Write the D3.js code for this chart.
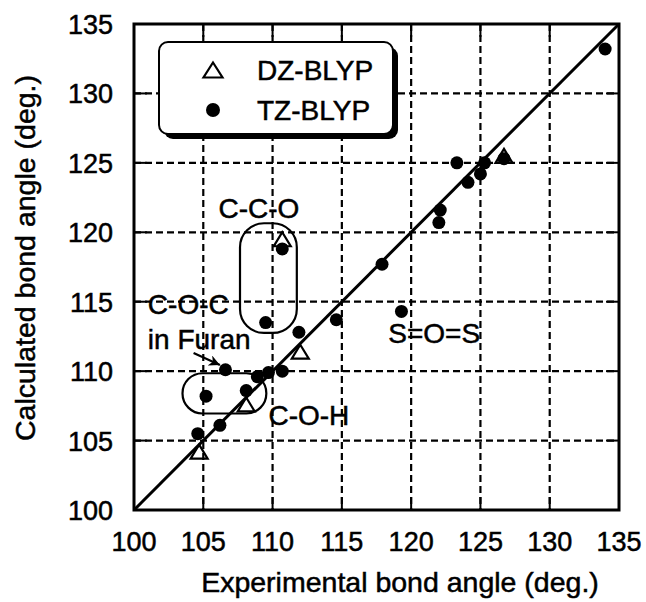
<!DOCTYPE html>
<html lang="en">
<head>
<meta charset="UTF-8" />
<title>Calculated vs experimental bond angle</title>
<script src="https://d3js.org/d3.v7.min.js"></script>
<style>
  body { margin: 0; background: #fff; }
  svg { font-family: "Liberation Sans", Arial, sans-serif; }
  svg text { stroke: #000; stroke-width: 0.5px; }
</style>
</head>
<body>
<svg width="646" height="602"></svg>
<script>
  // axis ticks (both axes share the same range)
  const tickValues = [100, 105, 110, 115, 120, 125, 130, 135];

  // DZ-BLYP (open triangles)
  const dzExp  = [110.7, 112.0, 108.1, 104.7, 126.7];
  const dzCalc = [119.5, 111.4, 107.6, 104.2, 125.5];

  // TZ-BLYP (filled circles)
  const tzExp  = [110.7, 109.5, 111.9, 114.6, 106.6, 108.9, 109.7, 110.7, 105.2, 108.1, 106.2, 104.6,
                  134.0, 123.3, 125.3, 125.0, 124.1, 122.1, 122.0, 117.9, 119.3, 126.7];
  const tzCalc = [118.8, 113.5, 112.8, 113.7, 110.1, 109.6, 109.9, 110.0, 108.2, 108.6, 106.1, 105.5,
                  133.2, 125.0, 125.0, 124.2, 123.6, 121.6, 120.7, 117.7, 114.3, 125.3];

  const svg = d3.select("svg");
  const pLeft = 134, pRight = 619, pTop = 24, pBottom = 510;

  const x = d3.scaleLinear().domain([100, 135]).range([pLeft, pRight]);
  const y = d3.scaleLinear().domain([100, 135]).range([pBottom, pTop]);

  // dashed grid
  const grid = svg.append("g").attr("stroke", "#000").attr("stroke-width", 2.2).attr("stroke-dasharray", "7,4");
  grid.selectAll(".gx").data(tickValues.slice(1, -1)).join("line")
    .attr("x1", d => x(d)).attr("x2", d => x(d)).attr("y1", pTop).attr("y2", pBottom);
  grid.selectAll(".gy").data(tickValues.slice(1, -1)).join("line")
    .attr("y1", d => y(d)).attr("y2", d => y(d)).attr("x1", pLeft).attr("x2", pRight);

  // inward ticks on all four sides
  const tk = 13;
  const tg = svg.append("g").attr("stroke", "#000").attr("stroke-width", 2);
  tickValues.slice(1, -1).forEach(v => {
    tg.append("line").attr("x1", x(v)).attr("x2", x(v)).attr("y1", pBottom).attr("y2", pBottom - tk);
    tg.append("line").attr("x1", x(v)).attr("x2", x(v)).attr("y1", pTop).attr("y2", pTop + tk);
    tg.append("line").attr("y1", y(v)).attr("y2", y(v)).attr("x1", pLeft).attr("x2", pLeft + tk);
    tg.append("line").attr("y1", y(v)).attr("y2", y(v)).attr("x1", pRight).attr("x2", pRight - tk);
  });

  // tick labels
  svg.append("g").selectAll("text").data(tickValues).join("text")
    .attr("x", d => x(d)).attr("y", pBottom + 41)
    .attr("text-anchor", "middle").attr("font-size", 27)
    .text(d => d);
  svg.append("g").selectAll("text").data(tickValues).join("text")
    .attr("x", pLeft - 21).attr("y", d => y(d) + 10)
    .attr("text-anchor", "end").attr("font-size", 27)
    .text(d => d);

  // axis titles
  svg.append("text").attr("x", 400).attr("y", 592)
    .attr("text-anchor", "middle").attr("font-size", 28.5)
    .text("Experimental bond angle (deg.)");
  svg.append("text").attr("transform", "translate(35,75) rotate(-90)")
    .attr("text-anchor", "end").attr("font-size", 28.5)
    .text("Calculated bond angle (deg.)");

  // y = x line
  svg.append("line")
    .attr("x1", x(100)).attr("y1", y(100)).attr("x2", x(135)).attr("y2", y(135))
    .attr("stroke", "#000").attr("stroke-width", 3);

  // annotation boxes
  const ann = svg.append("g").attr("fill", "none").attr("stroke", "#000").attr("stroke-width", 2.2);
  ann.append("rect")
    .attr("x", x(107.65)).attr("y", y(120.65))
    .attr("width", x(111.75) - x(107.65)).attr("height", y(112.75) - y(120.65))
    .attr("rx", 24);
  ann.append("rect")
    .attr("x", x(103.5)).attr("y", y(109.85))
    .attr("width", x(109.55) - x(103.5)).attr("height", y(106.95) - y(109.85))
    .attr("rx", 20);

  // arrow to furan C-O-C point
  svg.append("defs").append("marker")
    .attr("id", "arrow").attr("viewBox", "0 0 10 10").attr("refX", 10).attr("refY", 5)
    .attr("markerWidth", 15).attr("markerHeight", 11).attr("markerUnits", "userSpaceOnUse")
    .attr("orient", "auto")
    .append("path").attr("d", "M0,0L10,5L0,10L3,5Z").attr("fill", "#000");
  svg.append("line")
    .attr("x1", x(104.3)).attr("y1", y(111.3)).attr("x2", x(106.2)).attr("y2", y(110.45))
    .attr("stroke", "#000").attr("stroke-width", 2.2).attr("marker-end", "url(#arrow)");

  // data points
  const tri = (cx, cy, w, h) => `M${cx},${cy - h / 2}L${cx + w / 2},${cy + h / 2}L${cx - w / 2},${cy + h / 2}Z`;
  svg.append("g").selectAll("circle").data(d3.range(tzExp.length)).join("circle")
    .attr("cx", i => x(tzExp[i])).attr("cy", i => y(tzCalc[i])).attr("r", 6.5).attr("fill", "#000");
  svg.append("g").selectAll("path").data(d3.range(dzExp.length)).join("path")
    .attr("d", i => tri(x(dzExp[i]), y(dzCalc[i]), 17, 14))
    .attr("fill", "none").attr("stroke", "#000").attr("stroke-width", 2.2).attr("stroke-linejoin", "miter");

  // annotation texts
  const notes = svg.append("g").attr("font-size", 28);
  notes.append("text").attr("x", x(106.1)).attr("y", y(121.0)).text("C-C-O");
  notes.append("text").attr("x", x(101.0)).attr("y", y(114.1)).text("C-O-C");
  notes.append("text").attr("x", x(101.0)).attr("y", y(111.6)).text("in Furan");
  notes.append("text").attr("x", x(109.7)).attr("y", y(106.1)).text("C-O-H");
  notes.append("text").attr("x", x(118.35)).attr("y", y(112.0)).text("S=O=S");

  // frame
  svg.append("rect").attr("x", pLeft).attr("y", pTop)
    .attr("width", pRight - pLeft).attr("height", pBottom - pTop)
    .attr("fill", "none").attr("stroke", "#000").attr("stroke-width", 3);

  // legend
  const lg = svg.append("g");
  lg.append("rect").attr("x", 164).attr("y", 47).attr("width", 234).attr("height", 92).attr("rx", 9).attr("fill", "#000");
  lg.append("rect").attr("x", 159).attr("y", 42).attr("width", 234).attr("height", 92).attr("rx", 9)
    .attr("fill", "#fff").attr("stroke", "#000").attr("stroke-width", 2);
  lg.append("path").attr("d", tri(213, 70, 19, 15)).attr("fill", "none").attr("stroke", "#000").attr("stroke-width", 2.2);
  lg.append("circle").attr("cx", 213).attr("cy", 110).attr("r", 7).attr("fill", "#000");
  lg.append("text").attr("x", 257).attr("y", 80).attr("font-size", 28).text("DZ-BLYP");
  lg.append("text").attr("x", 257).attr("y", 120).attr("font-size", 28).text("TZ-BLYP");
</script>
</body>
</html>
